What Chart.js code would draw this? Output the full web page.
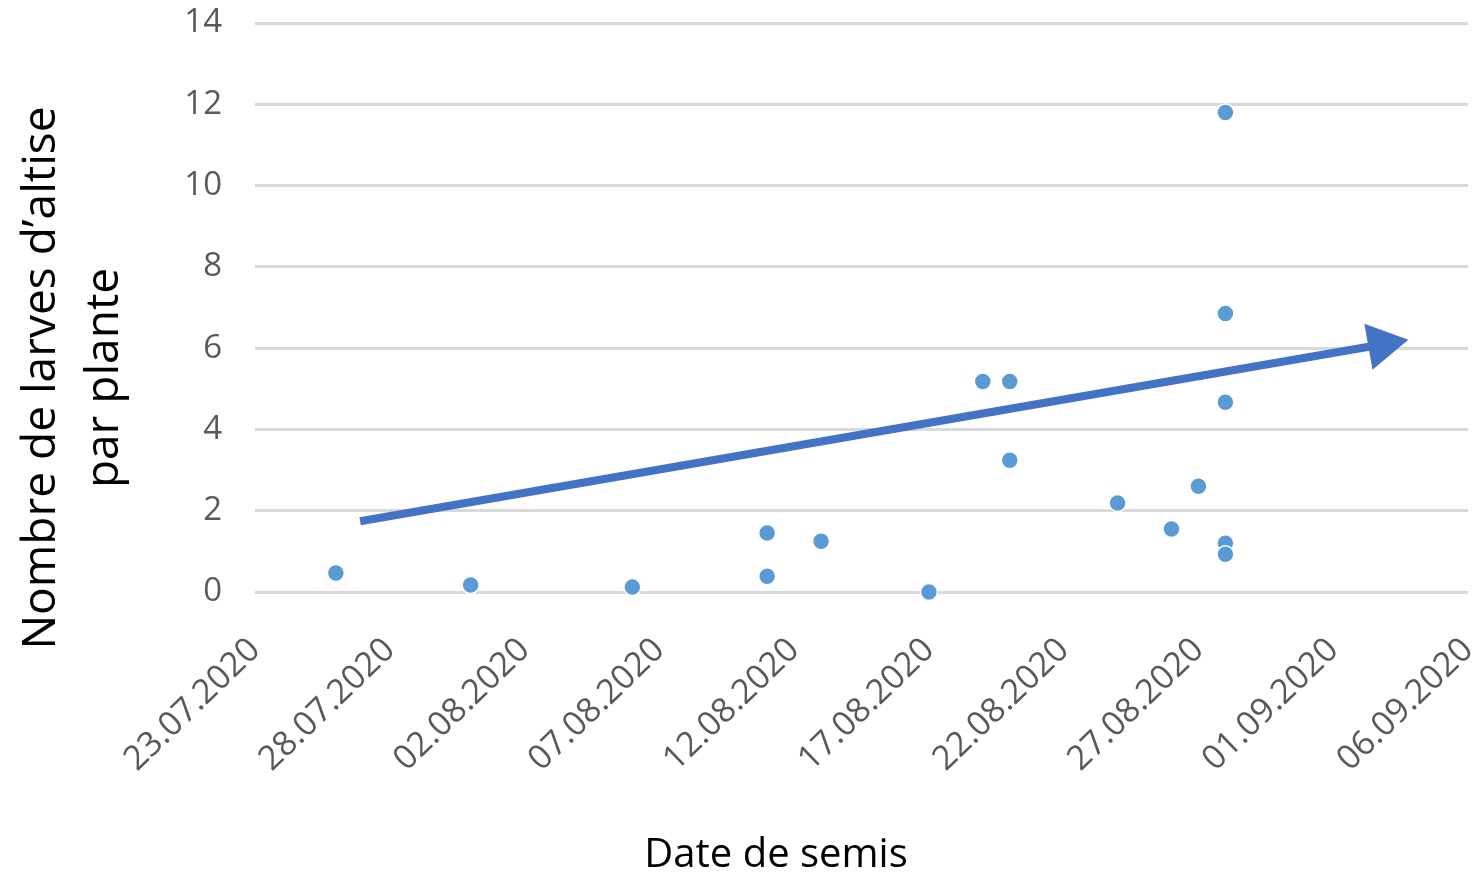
<!DOCTYPE html>
<html>
<head>
<meta charset="utf-8">
<script src="https://cdn.jsdelivr.net/npm/chart.js@4/dist/chart.umd.min.js"></script>
<style>
  html, body { margin: 0; padding: 0; overflow: hidden; background: #fff; }
  #wrap { position: relative; width: 1483px; height: 877px; }
  #larvesChart { display: block; }
</style>
</head>
<body>
<div id="wrap"><canvas id="larvesChart"></canvas></div>
<script>
const dateLabels = ["23.07.2020", "28.07.2020", "02.08.2020", "07.08.2020", "12.08.2020",
                    "17.08.2020", "22.08.2020", "27.08.2020", "01.09.2020", "06.09.2020"];
const yTicks = [0, 2, 4, 6, 8, 10, 12, 14];

const semisDates = ["26.07.2020", "31.07.2020", "06.08.2020", "11.08.2020", "11.08.2020",
                    "13.08.2020", "17.08.2020", "19.08.2020", "20.08.2020", "20.08.2020",
                    "24.08.2020", "26.08.2020", "27.08.2020", "28.08.2020", "28.08.2020",
                    "28.08.2020", "28.08.2020", "28.08.2020"];
const larves = [0.47, 0.17, 0.12, 1.45, 0.39, 1.25, 0, 5.18, 5.18, 3.24,
                2.19, 1.55, 2.6, 11.8, 6.85, 4.67, 1.2, 0.93];

// trend arrow, x in days after 23.07.2020
const trendDays = [3.9, 41.8];
const trendValues = [1.74, 6.09];

const xTitle = "Date de semis";
const yTitle = ["Nombre de larves d\u2019altise", "par plante"];

function dayIndex(s) {
    const [d, m, y] = s.split(".").map(Number);
    return Math.round((Date.UTC(y, m - 1, d) - Date.UTC(2020, 6, 23)) / 86400000);
}

// axis titles sit off-centre in the original, so draw them by hand
const axisTitles = {
    id: "axisTitles",
    afterDraw(chart) {
        const c = chart.ctx;
        c.save();
        c.fillStyle = "#000000";
        c.textAlign = "center";
        c.textBaseline = "alphabetic";
        c.font = "40px 'Open Sans'";
        c.fillText(xTitle, 776, 867);
        c.font = "46px 'Open Sans'";
        c.translate(0, 378);
        c.rotate(-Math.PI / 2);
        c.fillText(yTitle[0], 0, 55);
        c.fillText(yTitle[1], 0, 118);
        c.restore();
    }
};

document.addEventListener("DOMContentLoaded", function () {
    const ctx = document.getElementById("larvesChart").getContext("2d");
    const font = "'Open Sans', sans-serif";

    new Chart(ctx, {
        type: "scatter",
        data: {
            datasets: [{
                label: "Larves",
                data: semisDates.map((d, i) => ({ x: dayIndex(d), y: larves[i] })),
                backgroundColor: "#5b9bd5",
                borderColor: "#ffffff",
                borderWidth: 1.5,
                pointRadius: 8.5,
                clip: false
            }, {
                label: "Tendance",
                type: "line",
                data: trendDays.map((d, i) => ({ x: d, y: trendValues[i] })),
                borderColor: "#4472c4",
                backgroundColor: "#4472c4",
                borderWidth: 8,
                borderCapStyle: "butt",
                pointStyle: "triangle",
                pointRadius: [0, 27],
                pointBorderWidth: 0,
                rotation: [0, 80],
                clip: false
            }]
        },
        plugins: [axisTitles],
        options: {
            responsive: true,
            maintainAspectRatio: false,
            animation: false,
            layout: { padding: 0, autoPadding: false },
            plugins: {
                legend: { display: false },
                tooltip: { enabled: false }
            },
            scales: {
                x: {
                    type: "linear",
                    min: 0,
                    max: 45,
                    grid: { display: false },
                    border: { display: false },
                    afterFit: axis => {
                        axis.height = 285;
                        axis.paddingLeft = 0;
                        axis.paddingRight = 15;
                    },
                    ticks: {
                        stepSize: 5,
                        minRotation: 44,
                        maxRotation: 44,
                        padding: 30,
                        color: "#595959",
                        font: { family: font, size: 34 },
                        callback: v => dateLabels[v / 5]
                    }
                },
                y: {
                    min: 0,
                    max: 14,
                    grid: { color: "#d9d9d9", lineWidth: 3, drawTicks: false },
                    border: { display: false },
                    afterBuildTicks: axis => { axis.ticks = yTicks.map(v => ({ value: v })); },
                    afterFit: axis => {
                        axis.width = 255;
                        axis.paddingTop = 23;
                        axis.paddingBottom = 0;
                    },
                    ticks: {
                        padding: 33,
                        color: "#595959",
                        font: { family: font, size: 33 }
                    }
                }
            }
        }
    });
});
</script>
</body>
</html>
